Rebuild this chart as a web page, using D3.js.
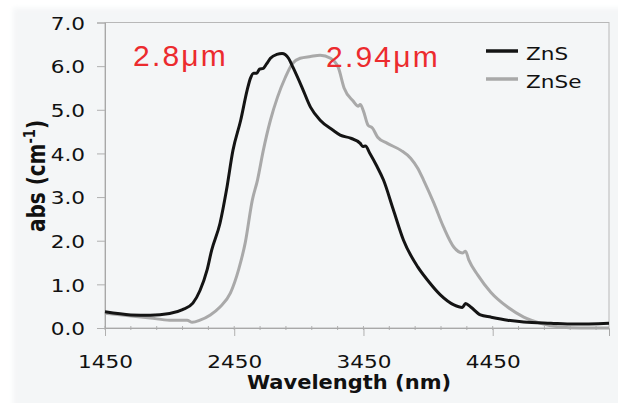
<!DOCTYPE html>
<html>
<head>
<meta charset="utf-8">
<script src="https://cdn.jsdelivr.net/npm/d3@7"></script>
<style>
  body { margin: 0; background: #fff; }
  svg { display: block; }
</style>
</head>
<body>
<svg width="618" height="403"></svg>
<script>
// values
var znsWavelength = [1450, 1650, 1800, 1950, 2050, 2130, 2185, 2240, 2275, 2340, 2390, 2440, 2500, 2550, 2575, 2600, 2625, 2645, 2675, 2700, 2730, 2780, 2820, 2870, 2905, 2975, 3040, 3115, 3215, 3270, 3350, 3425, 3445, 3465, 3500, 3555, 3605, 3680, 3760, 3870, 3945, 4045, 4150, 4215, 4240, 4280, 4355, 4435, 4565, 4690, 4900, 5080, 5350];
var znsAbs = [0.37, 0.30, 0.29, 0.33, 0.42, 0.57, 0.86, 1.33, 1.78, 2.40, 3.16, 4.07, 4.76, 5.45, 5.72, 5.84, 5.84, 5.93, 5.95, 6.05, 6.18, 6.27, 6.29, 6.18, 5.97, 5.51, 5.06, 4.76, 4.53, 4.42, 4.35, 4.23, 4.16, 4.17, 4.00, 3.70, 3.39, 2.72, 2.01, 1.40, 1.10, 0.76, 0.53, 0.47, 0.56, 0.48, 0.30, 0.25, 0.18, 0.14, 0.11, 0.09, 0.11];

var znseWavelength = [1450, 1800, 1950, 2085, 2125, 2185, 2265, 2340, 2420, 2485, 2535, 2590, 2630, 2675, 2730, 2785, 2845, 2900, 2960, 3040, 3115, 3195, 3255, 3300, 3370, 3410, 3425, 3450, 3485, 3520, 3560, 3635, 3740, 3815, 3870, 3915, 3995, 4070, 4150, 4215, 4240, 4265, 4335, 4435, 4565, 4690, 4820, 4955, 5130, 5350];
var znseAbs = [0.34, 0.23, 0.18, 0.18, 0.13, 0.18, 0.30, 0.48, 0.80, 1.35, 1.95, 2.93, 3.39, 4.07, 4.76, 5.29, 5.74, 6.06, 6.18, 6.22, 6.25, 6.18, 5.97, 5.50, 5.20, 5.08, 5.12, 4.97, 4.65, 4.58, 4.37, 4.23, 4.07, 3.89, 3.66, 3.39, 2.86, 2.31, 1.85, 1.72, 1.76, 1.56, 1.21, 0.82, 0.48, 0.25, 0.11, 0.03, 0.0, 0.0];

var xTicks = [1450, 2450, 3450, 4450];
var yTicks = [0, 1, 2, 3, 4, 5, 6, 7];
var seriesNames = ["ZnS", "ZnSe"];
var peakLabels = ["2.8\u03bcm", "2.94\u03bcm"];

var svg = d3.select("svg");
var font = "'DejaVu Sans', Verdana, sans-serif";

// soft slide background
var defs = svg.append("defs");
defs.append("filter").attr("id", "soft")
    .append("feGaussianBlur").attr("stdDeviation", 2.5);
svg.append("rect").attr("x", 13).attr("y", 8).attr("width", 640).attr("height", 420)
    .attr("fill", "#f4f6f7").attr("filter", "url(#soft)");

var x = d3.scaleLinear().domain([1450, 5350]).range([105, 609]);
var y = d3.scaleLinear().domain([0, 7]).range([328, 22.5]);

// plot frame
svg.append("rect")
    .attr("x", x(1450)).attr("y", y(7))
    .attr("width", x(5350) - x(1450)).attr("height", y(0) - y(7))
    .attr("fill", "none").attr("stroke", "#b8b8b8").attr("stroke-width", 1);

// minor ticks every 200 nm
svg.append("g").selectAll("line")
    .data(d3.range(1450, 5351, 200))
    .enter().append("line")
        .attr("x1", function(d) { return x(d); })
        .attr("x2", function(d) { return x(d); })
        .attr("y1", y(0) - 2).attr("y2", y(0) + 2)
        .attr("stroke", "#b0b0b0");

// x axis
var xAxis = svg.append("g")
    .attr("transform", "translate(0," + y(0) + ")")
    .call(d3.axisBottom(x).tickValues(xTicks).tickSize(8).tickPadding(19).tickFormat(d3.format("d")));
xAxis.select(".domain").attr("stroke", "#a8a8a8");
xAxis.selectAll(".tick line").attr("stroke", "#b0b0b0");
xAxis.selectAll(".tick text")
    .attr("fill", "#111").attr("font-family", font).attr("font-size", 18)
    .attr("transform", "scale(1.2,1)");

// y axis
var yAxis = svg.append("g")
    .attr("transform", "translate(" + x(1450) + ",0)")
    .call(d3.axisLeft(y).tickValues(yTicks).tickSize(8).tickFormat(d3.format(".1f")));
yAxis.select(".domain").attr("stroke", "#a8a8a8");
yAxis.selectAll(".tick line").attr("stroke", "#b0b0b0");
yAxis.selectAll(".tick text")
    .attr("x", 0).attr("dy", "0.38em")
    .attr("fill", "#111").attr("font-family", font).attr("font-size", 18)
    .attr("transform", "translate(-20,0) scale(1.2,1)");

// axis titles
svg.append("text")
    .attr("transform", "translate(349,389) scale(1.05,1)")
    .attr("text-anchor", "middle")
    .attr("font-family", font).attr("font-size", 20).attr("font-weight", "bold")
    .attr("fill", "#111")
    .text("Wavelength (nm)");

var yTitle = svg.append("text")
    .attr("transform", "translate(45,176) scale(1.2,1) rotate(-90)")
    .attr("text-anchor", "middle")
    .attr("font-family", font).attr("font-size", 20).attr("font-weight", "bold")
    .attr("fill", "#111");
yTitle.append("tspan").text("abs (cm");
yTitle.append("tspan").attr("dy", -8).attr("font-size", 13).text("-1");
yTitle.append("tspan").attr("dy", 8).text(")");

// curves
var line = d3.line()
    .x(function(d) { return x(d[0]); })
    .y(function(d) { return y(d[1]); })
    .curve(d3.curveMonotoneX);

var znse = d3.zip(znseWavelength, znseAbs);
var zns = d3.zip(znsWavelength, znsAbs);
var colors = ["#141414", "#a9a9a9"];

svg.append("path").datum(znse)
    .attr("fill", "none").attr("stroke", colors[1]).attr("stroke-width", 3)
    .attr("stroke-linejoin", "round")
    .attr("d", line);
svg.append("path").datum(zns)
    .attr("fill", "none").attr("stroke", colors[0]).attr("stroke-width", 3)
    .attr("stroke-linejoin", "round")
    .attr("d", line);

// legend
var legend = svg.append("g").selectAll("g")
    .data(seriesNames)
    .enter().append("g")
        .attr("transform", function(d, i) { return "translate(486," + (51 + i * 28) + ")"; });
legend.append("line")
    .attr("x1", 0).attr("x2", 32)
    .attr("stroke", function(d, i) { return colors[i]; })
    .attr("stroke-width", 3.5);
legend.append("text")
    .attr("transform", "translate(40,9) scale(1.2,1)")
    .attr("font-family", font).attr("font-size", 18).attr("fill", "#111")
    .text(function(d) { return d; });

// peak annotations
svg.append("g").selectAll("text")
    .data(peakLabels)
    .enter().append("text")
        .attr("x", function(d, i) { return [133, 326][i]; })
        .attr("y", function(d, i) { return [66, 67][i]; })
        .attr("font-family", "'Liberation Sans', Arial, sans-serif")
        .attr("font-size", 30).attr("letter-spacing", 2.2)
        .attr("fill", "#ec2b2e")
        .text(function(d) { return d; });
</script>
</body>
</html>
